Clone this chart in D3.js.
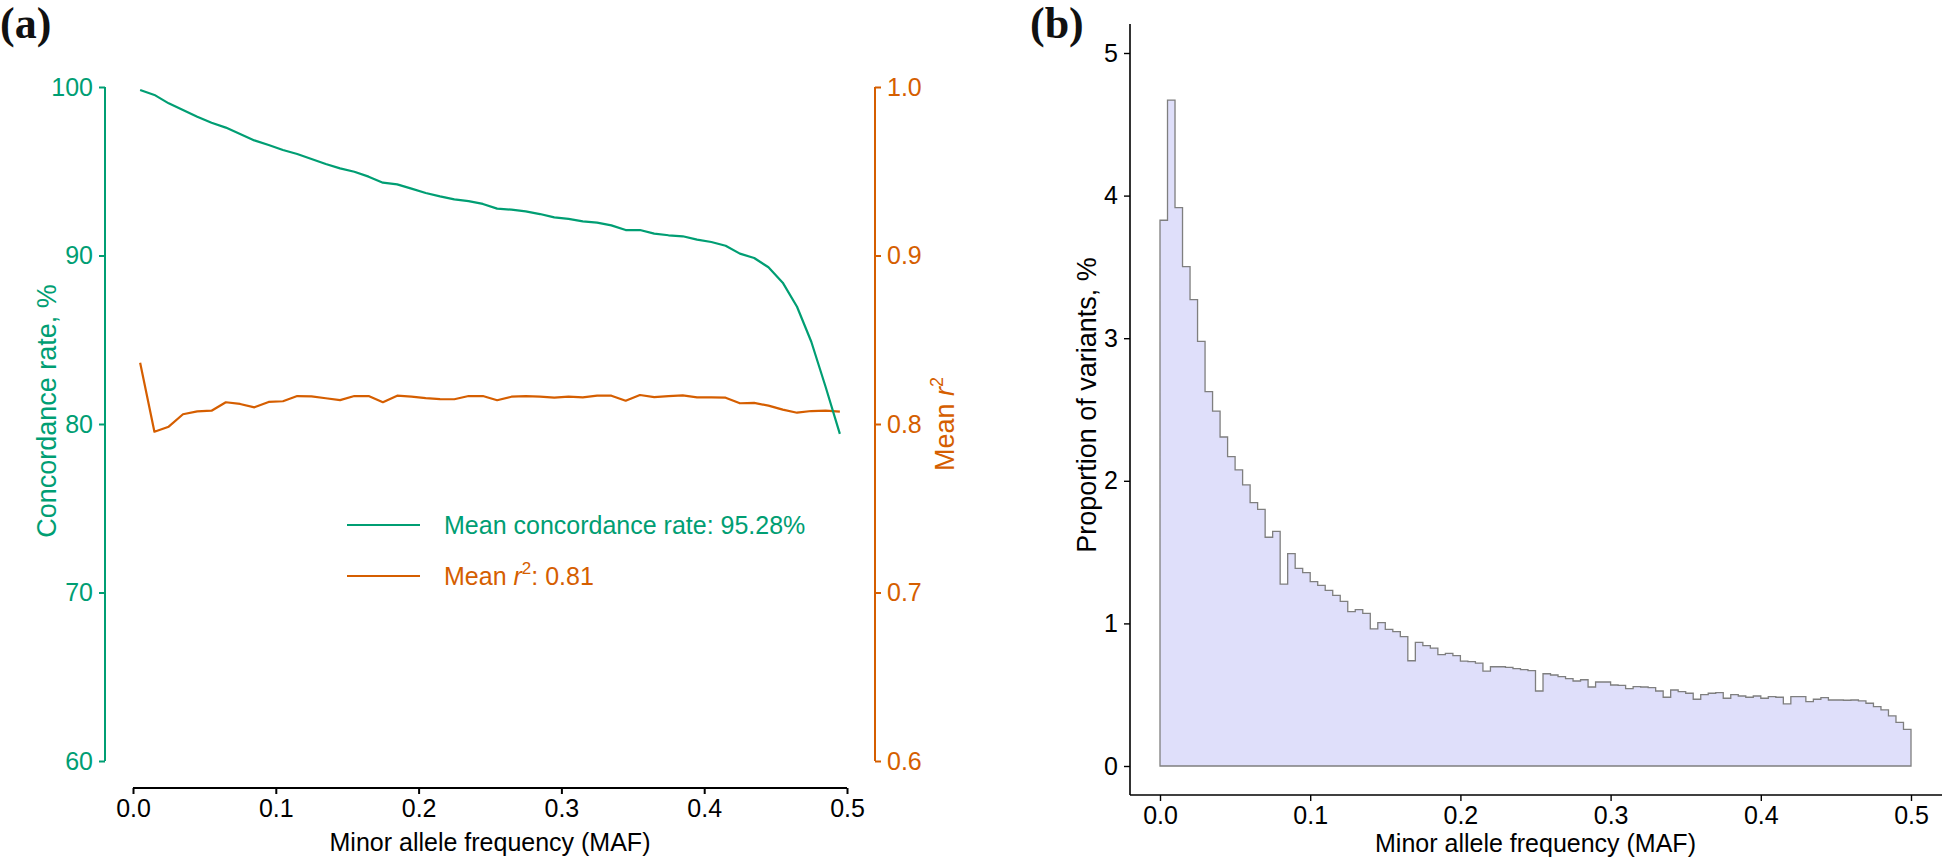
<!DOCTYPE html>
<html>
<head>
<meta charset="utf-8">
<script src="https://cdn.jsdelivr.net/npm/d3@7"></script>
<style>
  html, body { margin: 0; padding: 0; background: #ffffff; }
  svg { display: block; }
  text { font-family: "Liberation Sans", Arial, sans-serif; }
</style>
</head>
<body>
<svg id="chart" width="1944" height="858"></svg>
<script>
// ---------------- DATA ----------------
// Panel (a): MAF bin centres
const mafA = [0.005,0.015,0.025,0.035,0.045,0.055,0.065,0.075,0.085,0.095,
              0.105,0.115,0.125,0.135,0.145,0.155,0.165,0.175,0.185,0.195,
              0.205,0.215,0.225,0.235,0.245,0.255,0.265,0.275,0.285,0.295,
              0.305,0.315,0.325,0.335,0.345,0.355,0.365,0.375,0.385,0.395,
              0.405,0.415,0.425,0.435,0.445,0.455,0.465,0.475,0.485,0.495];
// Concordance rate (%)
const concordance = [99.82,99.53,99.03,98.63,98.24,97.88,97.59,97.21,96.83,96.56,
                     96.26,96.02,95.73,95.43,95.17,94.97,94.68,94.32,94.22,93.97,
                     93.71,93.51,93.33,93.23,93.06,92.78,92.72,92.62,92.46,92.26,
                     92.17,92.03,91.95,91.79,91.51,91.51,91.30,91.20,91.14,90.94,
                     90.80,90.58,90.11,89.85,89.30,88.39,86.96,84.88,82.21,79.41];
// Mean r^2
const meanR2 = [0.8364,0.7954,0.7984,0.8058,0.8075,0.8079,0.8129,0.8119,0.8099,0.8131,
                0.8135,0.8166,0.8164,0.8153,0.8142,0.8166,0.8166,0.8129,0.8168,0.8162,
                0.8154,0.8148,0.8147,0.8166,0.8166,0.8141,0.8162,0.8166,0.8162,0.8156,
                0.8162,0.8158,0.8168,0.8168,0.8138,0.8172,0.8160,0.8166,0.8170,0.8158,
                0.8158,0.8156,0.8123,0.8125,0.8109,0.8085,0.8067,0.8077,0.8079,0.8073];
const legendLabels = ["Mean concordance rate: 95.28%", "Mean r\u00B2: 0.81"];

// Panel (b): histogram, bin width 0.005 from 0 to 0.5 (proportion of variants, %)
const binWidth = 0.005;
const proportion = [3.827,4.670,3.915,3.502,3.270,2.978,2.625,2.489,2.307,2.169,
                    2.076,1.971,1.847,1.800,1.604,1.646,1.276,1.490,1.386,1.356,
                    1.293,1.267,1.232,1.197,1.155,1.082,1.096,1.071,0.961,1.005,
                    0.958,0.942,0.907,0.738,0.867,0.844,0.827,0.781,0.790,0.774,
                    0.736,0.732,0.722,0.666,0.696,0.696,0.692,0.683,0.676,0.669,
                    0.526,0.647,0.638,0.627,0.613,0.596,0.605,0.554,0.589,0.589,
                    0.568,0.566,0.542,0.556,0.554,0.549,0.526,0.482,0.533,0.521,
                    0.510,0.468,0.500,0.510,0.514,0.475,0.500,0.491,0.482,0.491,
                    0.475,0.486,0.482,0.435,0.486,0.486,0.451,0.468,0.479,0.463,
                    0.463,0.461,0.463,0.456,0.440,0.416,0.393,0.351,0.306,0.257];

const xTicks = [0.0,0.1,0.2,0.3,0.4,0.5];
const yTicksLeftA = [60,70,80,90,100];
const yTicksRightA = [0.6,0.7,0.8,0.9,1.0];
const yTicksB = [0,1,2,3,4,5];

// ---------------- STYLE ----------------
const GREEN = "#009E73";
const ORANGE = "#D55E00";
const FS = 25;

const svg = d3.select("#chart");

// ================= PANEL A =================
const xA = d3.scaleLinear().domain([0, 0.5]).range([133, 847]);
const yL = d3.scaleLinear().domain([60, 100]).range([761, 87]);
const yR = d3.scaleLinear().domain([0.6, 1.0]).range([761, 87]);

const gA = svg.append("g");

// left axis (green)
const axL = gA.append("g").attr("transform", "translate(105,0)")
  .call(d3.axisLeft(yL).tickValues(yTicksLeftA).tickSize(6).tickPadding(6).tickFormat(d3.format("d")));
axL.select(".domain").attr("stroke", GREEN).attr("stroke-width", 2).attr("d", `M0,${yL(60)}V${yL(100)}`);
axL.selectAll(".tick line").attr("stroke", GREEN).attr("stroke-width", 2);
axL.selectAll(".tick text").attr("fill", GREEN).style("font-size", FS + "px").attr("font-family", null);

// right axis (orange)
const axR = gA.append("g").attr("transform", "translate(875,0)")
  .call(d3.axisRight(yR).tickValues(yTicksRightA).tickSize(6).tickPadding(6).tickFormat(d3.format(".1f")));
axR.select(".domain").attr("stroke", ORANGE).attr("stroke-width", 2).attr("d", `M0,${yR(0.6)}V${yR(1.0)}`);
axR.selectAll(".tick line").attr("stroke", ORANGE).attr("stroke-width", 2);
axR.selectAll(".tick text").attr("fill", ORANGE).style("font-size", FS + "px").attr("font-family", null);

// bottom axis
const axBA = gA.append("g").attr("transform", "translate(0,788)")
  .call(d3.axisBottom(xA).tickValues(xTicks).tickSize(6).tickPadding(5).tickFormat(d3.format(".1f")));
axBA.select(".domain").attr("stroke", "#000").attr("stroke-width", 2).attr("d", `M${xA(0)},0H${xA(0.5)}`);
axBA.selectAll(".tick line").attr("stroke", "#000").attr("stroke-width", 2);
axBA.selectAll(".tick text").attr("fill", "#000").style("font-size", FS + "px").attr("font-family", null);

// lines
const lineL = d3.line().x((d, i) => xA(mafA[i])).y(d => yL(d));
const lineR = d3.line().x((d, i) => xA(mafA[i])).y(d => yR(d));
gA.append("path").datum(meanR2).attr("d", lineR).attr("fill", "none")
  .attr("stroke", ORANGE).attr("stroke-width", 2.2).attr("stroke-linejoin", "round");
gA.append("path").datum(concordance).attr("d", lineL).attr("fill", "none")
  .attr("stroke", GREEN).attr("stroke-width", 2.2).attr("stroke-linejoin", "round");

// axis titles
gA.append("text").attr("transform", "translate(56,411) rotate(-90)")
  .attr("text-anchor", "middle").attr("fill", GREEN).style("font-size", "27px")
  .text("Concordance rate, %");
const rt = gA.append("text").attr("transform", "translate(954,424) rotate(-90)")
  .attr("text-anchor", "middle").attr("fill", ORANGE).style("font-size", "27px");
rt.append("tspan").text("Mean ");
rt.append("tspan").attr("font-style", "italic").text("r");
rt.append("tspan").attr("dy", -11).style("font-size", "18px").text("2");
gA.append("text").attr("x", xA(0.25)).attr("y", 851).attr("text-anchor", "middle")
  .attr("fill", "#000").style("font-size", FS + "px").text("Minor allele frequency (MAF)");

// legend
const legY = [525, 576];
const legCol = [GREEN, ORANGE];
legY.forEach((y, i) => {
  gA.append("line").attr("x1", 347).attr("x2", 420).attr("y1", y).attr("y2", y)
    .attr("stroke", legCol[i]).attr("stroke-width", 2.2);
});
gA.append("text").attr("x", 444).attr("y", legY[0] + 9).attr("fill", GREEN)
  .style("font-size", FS + "px").text(legendLabels[0]);
const lt = gA.append("text").attr("x", 444).attr("y", legY[1] + 9).attr("fill", ORANGE)
  .style("font-size", FS + "px");
lt.append("tspan").text("Mean ");
lt.append("tspan").attr("font-style", "italic").text("r");
lt.append("tspan").attr("dy", -11).style("font-size", "17px").text("2");
lt.append("tspan").attr("dy", 11).text(": 0.81");

// panel label
svg.append("text").attr("x", 0).attr("y", 38)
  .attr("font-family", "'Liberation Serif', 'DejaVu Serif', serif")
  .style("font-family", "'Liberation Serif', serif")
  .attr("font-weight", "bold").style("font-size", "44px").attr("fill", "#111").text("(a)");

// ================= PANEL B =================
const xB = d3.scaleLinear().domain([0, 0.5]).range([1160, 1911]);
const yB = d3.scaleLinear().domain([0, 5]).range([766, 53]);
const gB = svg.append("g");

// histogram step polygon
const pts = [[0, 0]];
proportion.forEach((v, i) => {
  pts.push([i * binWidth, v]);
  pts.push([(i + 1) * binWidth, v]);
});
pts.push([proportion.length * binWidth, 0]);
const histLine = d3.line().x(d => xB(d[0])).y(d => yB(d[1]));
gB.append("path").attr("d", histLine(pts) + "Z")
  .attr("fill", "#dfdffa").attr("stroke", "#7f7f7f").attr("stroke-width", 1.3)
  .attr("stroke-linejoin", "miter");

// axes
const axYB = gB.append("g").attr("transform", "translate(1130,0)")
  .call(d3.axisLeft(yB).tickValues(yTicksB).tickSize(6).tickPadding(6).tickFormat(d3.format("d")));
axYB.select(".domain").attr("stroke", "#000").attr("stroke-width", 1.6).attr("d", "M0,24V795");
axYB.selectAll(".tick line").attr("stroke", "#000").attr("stroke-width", 1.4);
axYB.selectAll(".tick text").attr("fill", "#000").style("font-size", FS + "px").attr("font-family", null);

const axXB = gB.append("g").attr("transform", "translate(0,795)")
  .call(d3.axisBottom(xB).tickValues(xTicks).tickSize(6).tickPadding(5).tickFormat(d3.format(".1f")));
axXB.select(".domain").attr("stroke", "#000").attr("stroke-width", 1.6).attr("d", "M1130,0H1942");
axXB.selectAll(".tick line").attr("stroke", "#000").attr("stroke-width", 1.4);
axXB.selectAll(".tick text").attr("fill", "#000").style("font-size", FS + "px").attr("font-family", null);

gB.append("text").attr("transform", "translate(1096,405) rotate(-90)")
  .attr("text-anchor", "middle").attr("fill", "#000").style("font-size", "27px")
  .text("Proportion of variants, %");
gB.append("text").attr("x", xB(0.25)).attr("y", 852).attr("text-anchor", "middle")
  .attr("fill", "#000").style("font-size", FS + "px").text("Minor allele frequency (MAF)");

svg.append("text").attr("x", 1030).attr("y", 38)
  .style("font-family", "'Liberation Serif', serif")
  .attr("font-weight", "bold").style("font-size", "44px").attr("fill", "#111").text("(b)");
</script>
</body>
</html>
